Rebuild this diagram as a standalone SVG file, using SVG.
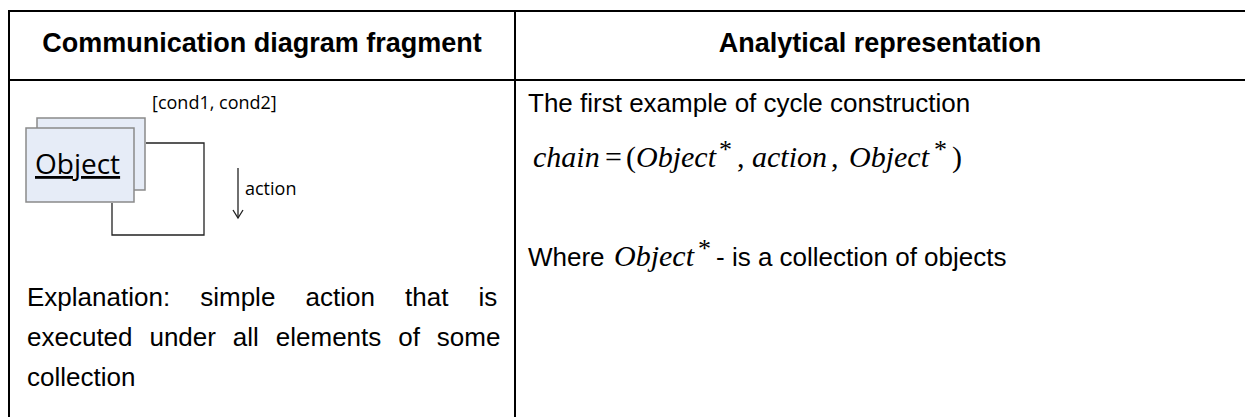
<svg xmlns="http://www.w3.org/2000/svg" width="1245" height="417" viewBox="0 0 1245 417">
  <style>
    .grid { stroke: #000; stroke-width: 2; fill: none; }
    .hdr { font-family: "Liberation Sans", Arial, sans-serif; font-weight: bold; font-size: 27px; fill: #000; text-anchor: middle; }
    .body { font-family: "Liberation Sans", Arial, sans-serif; font-size: 26px; fill: #000; }
    .math { font-family: "Liberation Serif", "Times New Roman", serif; font-style: italic; font-size: 30px; fill: #000; }
    .mathr { font-family: "Liberation Serif", "Times New Roman", serif; font-size: 30px; fill: #000; }
    .star { font-family: "Liberation Serif", "Times New Roman", serif; font-size: 26px; fill: #000; }
    .obj { fill: #e6ecf7; stroke: #8a8a8a; stroke-width: 1.5; }
    .uml { font-family: "Open Sans", "Noto Sans", sans-serif; fill: #000; }
    .link { stroke: #222; stroke-width: 1.3; fill: none; }
  </style>
  <rect width="1245" height="417" fill="#fff"/>
  <g id="table">
    <line class="grid" x1="9" y1="11" x2="1245" y2="11"/>
    <line class="grid" x1="9" y1="80" x2="1245" y2="80"/>
    <line class="grid" x1="9" y1="10" x2="9" y2="417"/>
    <line class="grid" x1="515" y1="10" x2="515" y2="417"/>
    <text class="hdr" x="262" y="52">Communication diagram fragment</text>
    <text class="hdr" x="880" y="52">Analytical representation</text>
  </g>
  <g id="object-stack">
    <rect class="obj" x="37" y="118" width="108" height="72"/>
    <rect class="obj" x="26" y="128" width="108" height="74"/>
    <text class="uml" x="35" y="174" font-size="28" text-decoration="underline">Object</text>
  </g>
  <g id="connectors">
    <path class="link" d="M146,143 H204 V235 H112 V203"/>
    <line class="link" x1="238" y1="168" x2="238" y2="218"/>
    <polyline class="link" points="233,210 238,218 243,210"/>
  </g>
  <g id="labels">
    <text class="uml" x="152" y="109" font-size="18">[cond1, cond2]</text>
    <text class="uml" x="245" y="195" font-size="18">action</text>
  </g>
  <g id="explanation">
    <text class="body" x="27" y="306" word-spacing="22.9">Explanation: simple action that is</text>
    <text class="body" x="27" y="346" word-spacing="9.7">executed under all elements of some</text>
    <text class="body" x="27" y="386">collection</text>
  </g>
  <g id="analytical">
    <text class="body" x="528" y="112">The first example of cycle construction</text>
    <text class="math" x="533" y="167">chain</text>
    <text class="mathr" x="605" y="167">=</text>
    <text class="mathr" x="626" y="167">(</text>
    <text class="math" x="636" y="167">Object</text>
    <text class="star" x="719" y="158">*</text>
    <text class="mathr" x="737" y="167">,</text>
    <text class="math" x="752" y="167">action</text>
    <text class="mathr" x="831" y="167">,</text>
    <text class="math" x="849" y="167">Object</text>
    <text class="star" x="934" y="158">*</text>
    <text class="mathr" x="952" y="167">)</text>
    <text class="body" x="528" y="266">Where</text>
    <text class="math" x="614" y="266">Object</text>
    <text class="star" x="698" y="257">*</text>
    <text class="body" x="716" y="266">- is a collection of objects</text>
  </g>
</svg>
